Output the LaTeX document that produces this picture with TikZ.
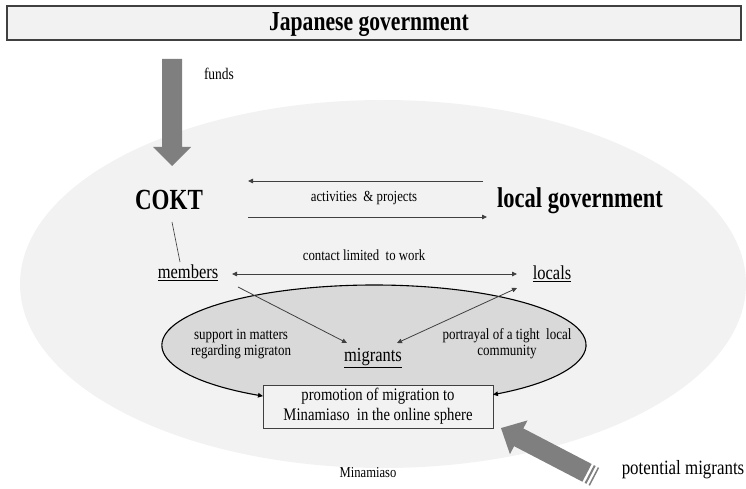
\documentclass[tikz,border=0pt]{standalone}
\usepackage{fontspec}
\setmainfont{Liberation Serif}
\usetikzlibrary{arrows.meta,calc}
\definecolor{pale}{HTML}{F2F2F2}
\definecolor{midgray}{HTML}{D9D9D9}
\definecolor{fatgray}{HTML}{7F7F7F}
\definecolor{linegray}{HTML}{404040}
\begin{document}
\begin{tikzpicture}[x=1pt,y=1pt,
  conn/.style={draw=linegray, line width=0.8pt},
  tipend/.style={-{Triangle[length=5pt,width=4.5pt]}},
  tipboth/.style={{Triangle[length=5pt,width=4.5pt]}-{Triangle[length=5pt,width=4.5pt]}},
  stretch/.style={transform shape, yscale=1.2},
  bigstretch/.style={transform shape, yscale=1.27},
  bigbold/.style={bigstretch, font=\fontsize{22.5}{26}\selectfont\bfseries, inner sep=0pt},
  actor/.style={stretch, font=\fontsize{16.5}{19}\selectfont, inner sep=0pt},
  small/.style={stretch, font=\fontsize{12.8}{15}\selectfont, inner sep=0pt, align=center},
  fat/.style={fill=fatgray, draw=none}]
\useasboundingbox (0,0) rectangle (746,488);
% outer region
\fill[pale] (383,204) ellipse [x radius=363, y radius=184];
% title
\node[draw=linegray, line width=1.1pt, fill=pale, minimum width=734pt, minimum height=34pt,
      inner sep=0pt] (jg) at (374,465) {};
\node[bigstretch, inner sep=0pt, font=\fontsize{21.6}{26}\selectfont\bfseries] (jgt) at (369,463) {Japanese government};
% funds arrow
\fill[fat] (162,429) -- (182,429) -- (182,341) -- (191,341) -- (172,322) -- (153,341) -- (162,341) -- cycle;
\node[small, font=\fontsize{13.5}{16}\selectfont] (funds) at (219,414) {funds};
% main actors
\node[bigbold, font=\fontsize{23}{26}\selectfont\bfseries] (cokt) at (169,288) {COKT};
\node[bigbold] (lg) at (580,287) {local government};
\coordinate (a1s) at (483,307);
\coordinate (a1e) at (248,307);
\coordinate (a2s) at (248,271);
\coordinate (a2e) at (487,271);
\draw[conn, tipend] (a1s) -- (a1e);
\draw[conn, tipend] (a2s) -- (a2e);
\node[small] (act) at (364,290) {activities \ \& projects};
% members / locals
\node[actor] (mem) at (188,215) {\underline{members}};
\node[actor] (loc) at (552,214) {\underline{locals}};
\coordinate (ck1) at (172,266);
\coordinate (ck2) at (180,226);
\draw[conn, line width=0.6pt] (ck1) -- (ck2);
\coordinate (c1) at (232,214);
\coordinate (c2) at (517,214);
\draw[conn, tipboth] (c1) -- (c2);
\node[small] (clw) at (364,233) {contact limited \ to work};
% inner ellipse
\fill[midgray] (374,143) ellipse [x radius=212, y radius=60];
\node[stretch, draw=linegray, line width=0.8pt, fill=pale, minimum width=230pt, minimum height=35.8pt,
      inner sep=0pt, align=center, font=\fontsize{14.7}{16.5}\selectfont] (promo) at (378,81.5)
      {promotion of migration to\\Minamiaso \ in the online sphere};
\coordinate (al) at (263,91.9);
\draw[draw=black, line width=1.1pt, tipboth] (al) arc[start angle=238.4, end angle=-55.9, x radius=212, y radius=60];
\node[actor] (mig) at (373,130) {\underline{migrants}};
\coordinate (m1) at (238,201);
\coordinate (m2) at (347,145);
\coordinate (l1) at (517,200);
\coordinate (l2) at (397,145);
\draw[conn, tipend] (m1) -- (m2);
\draw[conn, tipboth] (l2) -- (l1);
\node[small, font=\fontsize{13}{13.5}\selectfont] (sup) at (241,144) {support in matters\\regarding migraton};
\node[small, font=\fontsize{13}{13.5}\selectfont] (por) at (507,144) {portrayal of a tight \ local\\community};
% bottom labels
\node[small, font=\fontsize{12.6}{15}\selectfont] (mina) at (368,15) {Minamiaso};
\node[actor, font=\fontsize{16.9}{19}\selectfont] (pm) at (683,18) {potential migrants};
% potential migrants fat arrow
\begin{scope}[shift={(595,11)}, rotate=152.5]
  \fill[fat] (9,-10) -- (86,-10) -- (86,-19) -- (106,0) -- (86,19) -- (86,10) -- (9,10) -- cycle;
  \fill[fat] (4.5,-10) rectangle (6.5,10);
  \fill[fat] (0.5,-10) rectangle (2,10);
\end{scope}
\end{tikzpicture}
\end{document}
